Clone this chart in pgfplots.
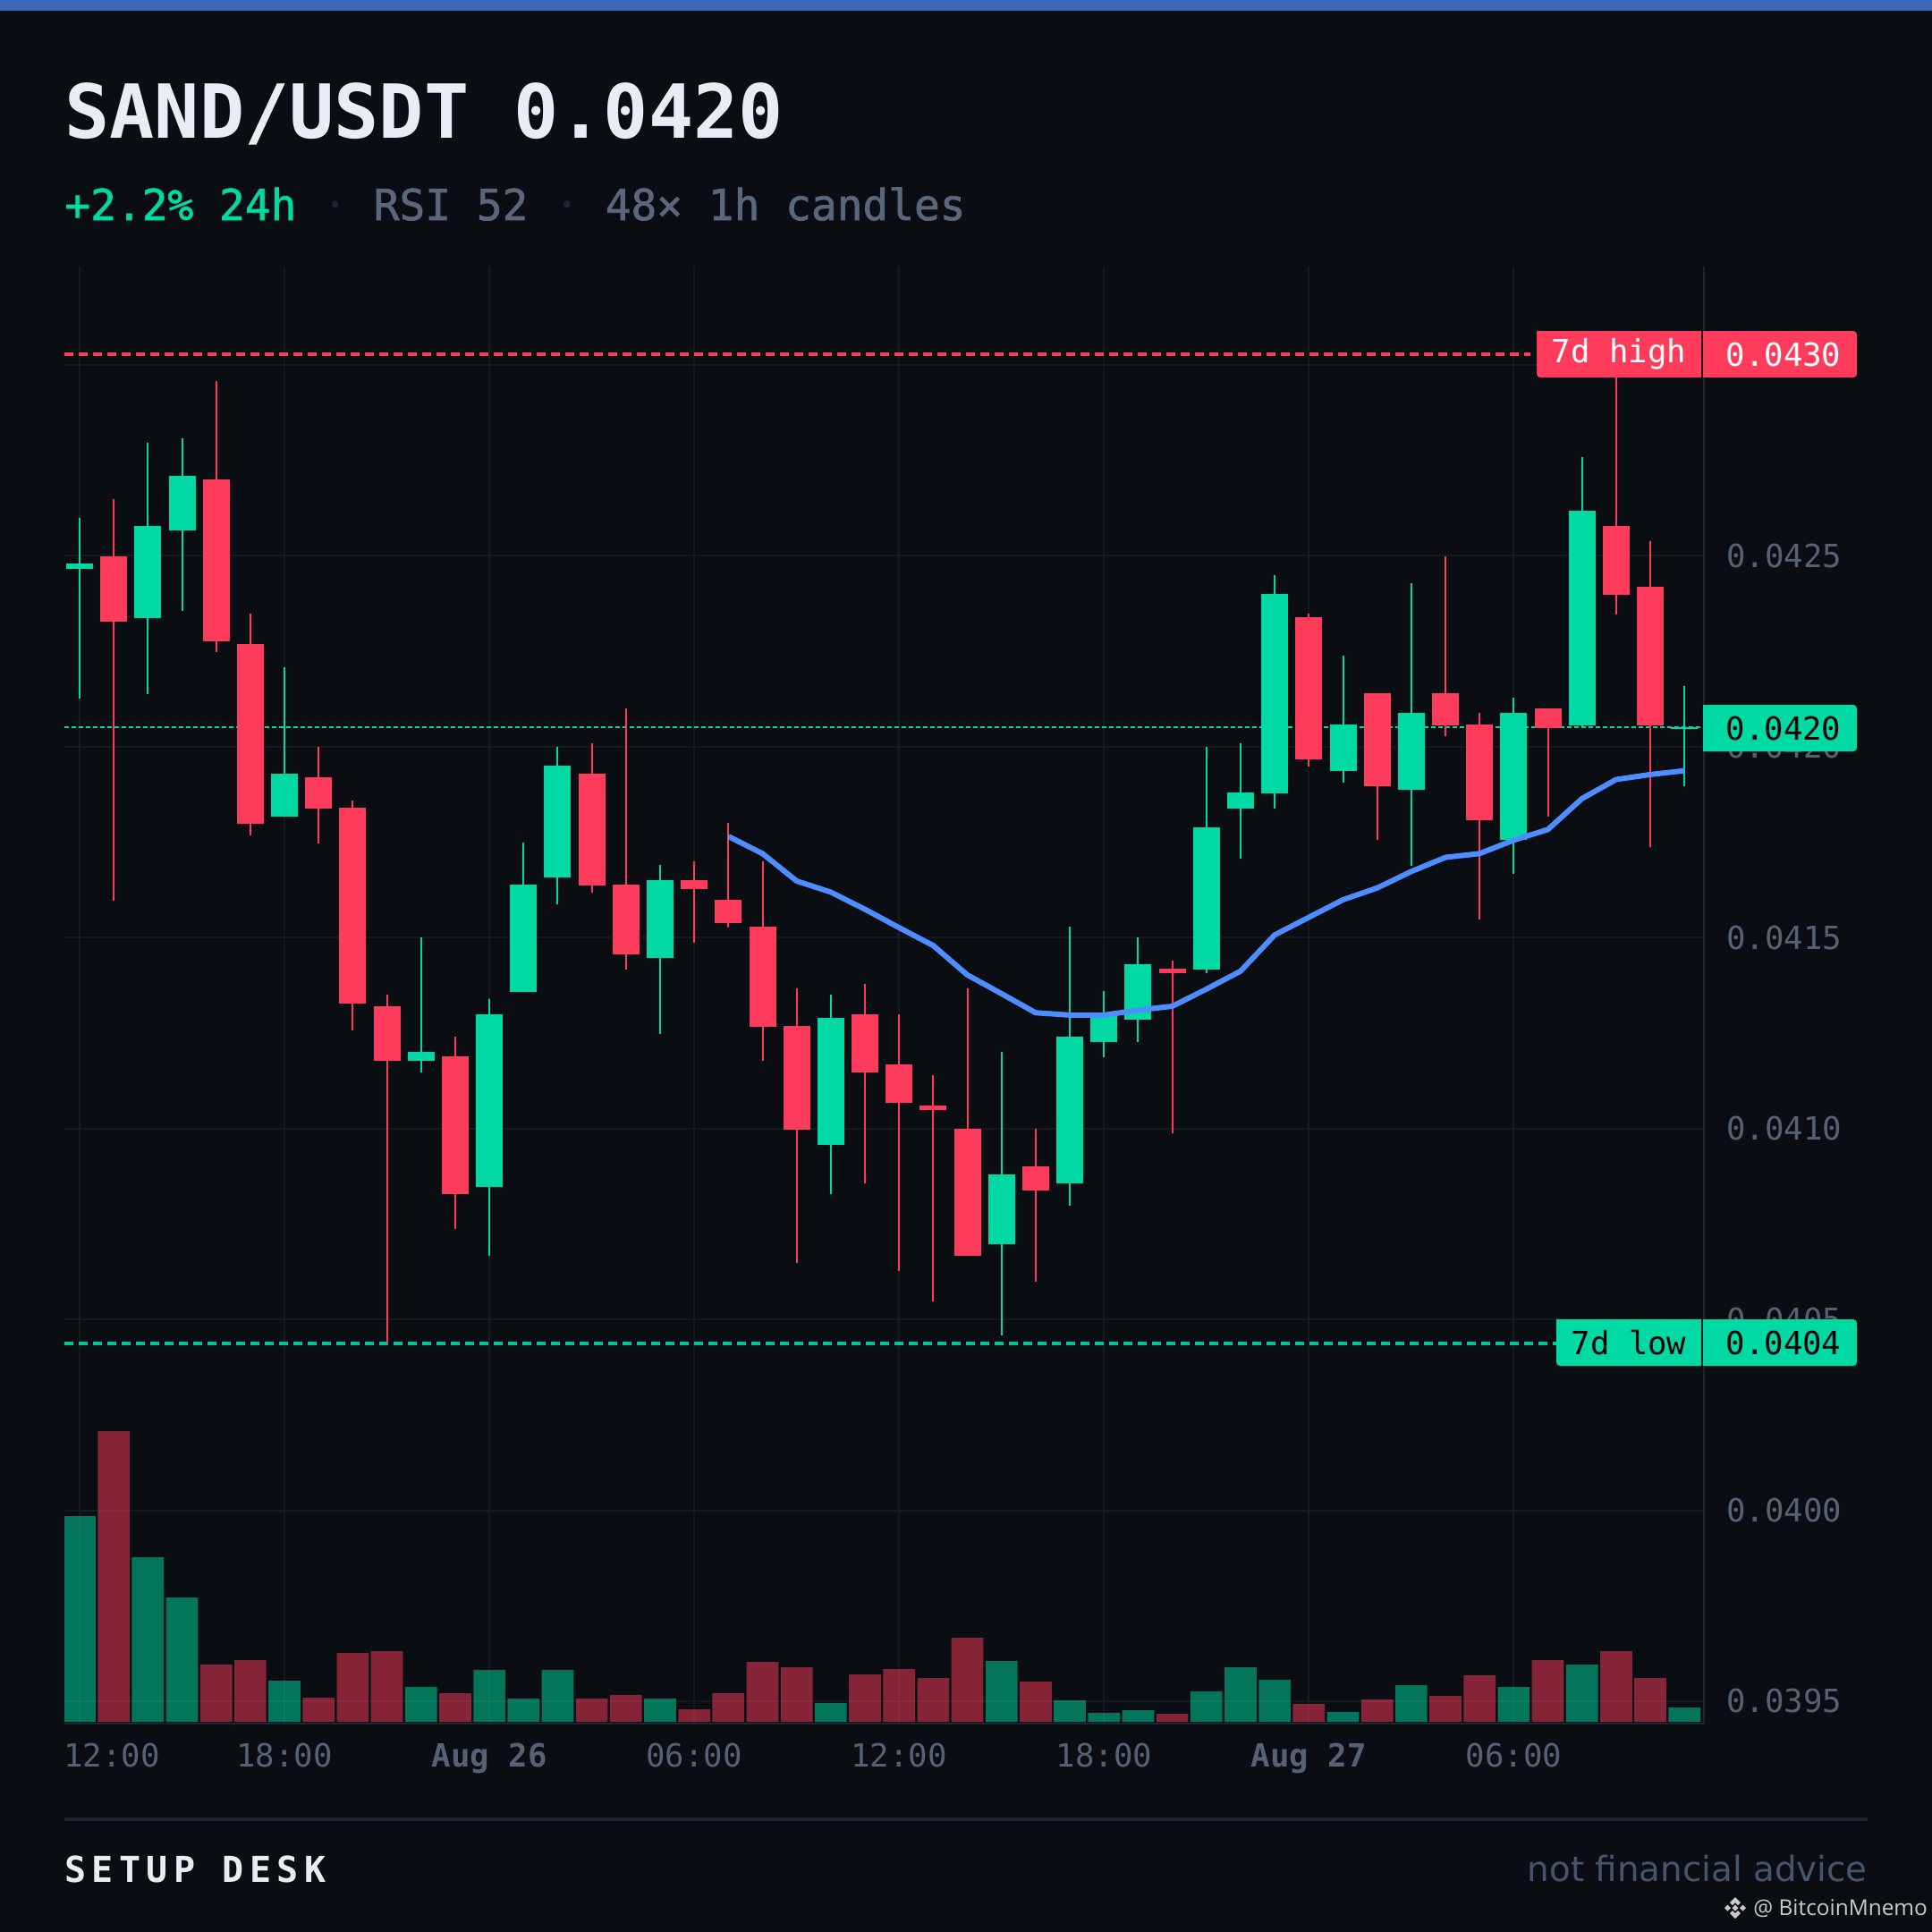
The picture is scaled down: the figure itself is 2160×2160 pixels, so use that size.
\documentclass[border=0pt]{standalone}
\usepackage{fontspec}
\usepackage{pgfplots}
\pgfplotsset{compat=1.18}
\usetikzlibrary{calc}
\newfontfamily\mono{DejaVu Sans Mono}
\newfontfamily\monom[FakeBold=1.5]{DejaVu Sans Mono}
\newfontfamily\monosp[LetterSpace=16]{DejaVu Sans Mono}
\newfontfamily\wide{DejaVu Sans}
\newfontfamily\wm{Open Sans}
\definecolor{bg}{HTML}{0A0D12}
\definecolor{topbar}{HTML}{3B67B8}
\definecolor{titlec}{HTML}{E8ECF3}
\definecolor{up}{HTML}{00D9A3}
\definecolor{down}{HTML}{FF3B5C}
\definecolor{tick}{HTML}{566274}
\definecolor{gridc}{HTML}{161A20}
\definecolor{axisc}{HTML}{1E2530}
\definecolor{sub}{HTML}{5A677B}
\definecolor{ma}{HTML}{4D8DFF}
\definecolor{dotc}{HTML}{1E2530}
\definecolor{foot}{HTML}{46556C}
\newcommand\candle[6]{%
  \addplot[#2,line width=1pt,line cap=butt,forget plot] coordinates {(#1,#3)(#1,#6)};
  \addplot[#2,line width=15pt,line cap=butt,forget plot] coordinates {(#1,#4)(#1,#5)};
}
\newcommand\subdot{\makebox[14.39pt][c]{\textcolor{dotc}{\raisebox{4pt}{\fontsize{13}{13}\selectfont •}}}}
\begin{document}
\begin{tikzpicture}[x=0.5pt,y=-0.5pt]
\path[use as bounding box,fill=bg] (0,0) rectangle (2160,2160);
\fill[topbar] (0,0) rectangle (2160,12);
\node[anchor=base west,inner sep=0pt,text=titlec,font=\mono\bfseries\fontsize{41.7}{50}\selectfont] at (72,154) {SAND/USDT 0.0420};
\node[anchor=base west,inner sep=0pt,font=\monom\fontsize{23.9}{28}\selectfont] at (72,246) {\textcolor{up}{+2.2\% 24h} \subdot{} \textcolor{sub}{RSI 52} \subdot{} \textcolor{sub}{48× 1h candles}};
\begin{axis}[
  at={(36pt,-963.5pt)},anchor=south west,
  width=916.5pt,height=814.5pt,scale only axis,
  xmin=-0.445,xmax=47.57,ymin=0.0394413,ymax=0.0432574,
  axis x line=bottom,axis y line=right,
  axis line style={-,axisc,line width=1.25pt},
  major tick length=0pt,
  clip=true,
  scaled y ticks=false,
  xtick={0,6,12,18,24,30,36,42},
  xticklabels={\makebox[0pt][l]{\hspace{-8.75pt}12:00},18:00,\textbf{Aug 26},06:00,12:00,18:00,\textbf{Aug 27},06:00},
  ytick={0.0395,0.04,0.0405,0.041,0.0415,0.042,0.0425,0.043},
  /pgf/number format/fixed,
  /pgf/number format/fixed zerofill,
  /pgf/number format/precision=4,
  /pgf/number format/assume math mode=true,
  tick label style={font=\mono\fontsize{17.85}{20}\selectfont,text=tick},
  xticklabel style={anchor=base,yshift=-24pt},
  yticklabel style={anchor=west,xshift=9pt},
  grid=major,
  major grid style={gridc,line width=1pt},
]
% current price
\addplot[up,line width=1pt,dash pattern=on 2.5pt off 1.5pt,forget plot] coordinates {(-0.445,0.042050)(47.57,0.042050)};
% 7d high / low
\addplot[down,line width=2pt,dash pattern=on 5pt off 3pt,forget plot] coordinates {(-0.445,0.043028)(42.5,0.043028)};
\addplot[up!90!bg,line width=2pt,dash pattern=on 5pt off 3pt,forget plot] coordinates {(-0.445,0.040438)(43.3,0.040438)};
\candle{0}{up}{0.042598}{0.042480}{0.042466}{0.042126}
\candle{1}{down}{0.042649}{0.042498}{0.042327}{0.041596}
\candle{2}{up}{0.042797}{0.042578}{0.042337}{0.042138}
\candle{3}{up}{0.042808}{0.042709}{0.042567}{0.042356}
\candle{4}{down}{0.042958}{0.042700}{0.042275}{0.042247}
\candle{5}{down}{0.042349}{0.042269}{0.041798}{0.041767}
\candle{6}{up}{0.042208}{0.041929}{0.041817}{0.041817}
\candle{7}{down}{0.041999}{0.041919}{0.041837}{0.041747}
\candle{8}{down}{0.041859}{0.041840}{0.041327}{0.041256}
\candle{9}{down}{0.041350}{0.041320}{0.041178}{0.040436}
\candle{10}{up}{0.041501}{0.041201}{0.041178}{0.041146}
\candle{11}{down}{0.041240}{0.041189}{0.040828}{0.040736}
\candle{12}{up}{0.041338}{0.041298}{0.040846}{0.040666}
\candle{13}{up}{0.041748}{0.041638}{0.041357}{0.041357}
\candle{14}{up}{0.041999}{0.041951}{0.041658}{0.041588}
\candle{15}{down}{0.042009}{0.041929}{0.041636}{0.041618}
\candle{16}{down}{0.042100}{0.041638}{0.041455}{0.041415}
\candle{17}{up}{0.041690}{0.041650}{0.041447}{0.041248}
\candle{18}{down}{0.041700}{0.041650}{0.041626}{0.041486}
\candle{19}{down}{0.041800}{0.041599}{0.041537}{0.041526}
\candle{20}{down}{0.041700}{0.041529}{0.041266}{0.041178}
\candle{21}{down}{0.041368}{0.041268}{0.040997}{0.040647}
\candle{22}{up}{0.041350}{0.041290}{0.040957}{0.040828}
\candle{23}{down}{0.041378}{0.041298}{0.041146}{0.040856}
\candle{24}{down}{0.041298}{0.041169}{0.041067}{0.040627}
\candle{25}{down}{0.041139}{0.041061}{0.041049}{0.040547}
\candle{26}{down}{0.041368}{0.040999}{0.040666}{0.040666}
\candle{27}{up}{0.041201}{0.040880}{0.040697}{0.040458}
\candle{28}{down}{0.040999}{0.040900}{0.040838}{0.040599}
\candle{29}{up}{0.041529}{0.041240}{0.040856}{0.040798}
\candle{30}{up}{0.041360}{0.041295}{0.041226}{0.041186}
\candle{31}{up}{0.041501}{0.041430}{0.041286}{0.041226}
\candle{32}{down}{0.041439}{0.041419}{0.041407}{0.040987}
\candle{33}{up}{0.041999}{0.041789}{0.041415}{0.041407}
\candle{34}{up}{0.042009}{0.041881}{0.041837}{0.041706}
\candle{35}{up}{0.042449}{0.042399}{0.041877}{0.041837}
\candle{36}{down}{0.042349}{0.042339}{0.041966}{0.041947}
\candle{37}{up}{0.042239}{0.042058}{0.041936}{0.041906}
\candle{38}{down}{0.042140}{0.042140}{0.041896}{0.041755}
\candle{39}{up}{0.042428}{0.042088}{0.041887}{0.041688}
\candle{40}{down}{0.042498}{0.042140}{0.042056}{0.042028}
\candle{41}{down}{0.042088}{0.042058}{0.041807}{0.041548}
\candle{42}{up}{0.042128}{0.042088}{0.041755}{0.041666}
\candle{43}{down}{0.042100}{0.042100}{0.042048}{0.041817}
\candle{44}{up}{0.042759}{0.042619}{0.042056}{0.042048}
\candle{45}{down}{0.043028}{0.042578}{0.042398}{0.042346}
\candle{46}{down}{0.042538}{0.042419}{0.042056}{0.041737}
\candle{47}{up}{0.042158}{0.042051}{0.042046}{0.041896}
% moving average
\addplot[ma,line width=3pt,line join=round,forget plot] coordinates {
(19,0.041765)(20,0.041720)(21,0.041648)(22,0.041619)(23,0.041574)(24,0.041526)
(25,0.041479)(26,0.041402)(27,0.041353)(28,0.041303)(29,0.041297)(30,0.041297)
(31,0.041310)(32,0.041320)(33,0.041365)(34,0.041412)(35,0.041507)(36,0.041553)
(37,0.041599)(38,0.041630)(39,0.041673)(40,0.041710)(41,0.041720)(42,0.041755)
(43,0.041783)(44,0.041864)(45,0.041914)(46,0.041927)(47,0.041937)};
\end{axis}
\begin{axis}[
  at={(36pt,-963.5pt)},anchor=south west,
  width=916.5pt,height=814.5pt,scale only axis,
  xmin=-0.445,xmax=47.57,ymin=-2,ymax=1627,
  hide axis,clip=true,
]
\addplot[ybar,bar width=17.85pt,bar shift=0pt,fill=up,fill opacity=0.505,draw=none,forget plot] coordinates {
(0,230)(2,184)(3,139)(6,46)(10,39)(12,58)(13,26)(14,58)(17,26)(22,21)(27,68)(29,24)(30,10)(31,13)(33,34)(34,61)(35,47)(37,11)(39,41)(42,39)(44,64)(47,16)};
\addplot[ybar,bar width=17.85pt,bar shift=0pt,fill=down,fill opacity=0.505,draw=none,forget plot] coordinates {
(1,325)(4,64)(5,69)(7,27)(8,77)(9,79)(11,32)(15,26)(16,30)(18,14)(19,32)(20,67)(21,61)(23,53)(24,59)(25,49)(26,94)(28,45)(32,9)(36,20)(38,25)(40,29)(41,52)(43,69)(45,79)(46,49)};
\end{axis}
% price labels
\newcommand\labL[5]{\fill[#1] (#4,#3) -- (#2,#3) [rounded corners=2pt] -- (#2,#3) -- (#2,#5) [sharp corners] -- (#4,#5) -- cycle;}
\newcommand\labR[5]{\fill[#1,rounded corners=2pt] (#2,#3) [sharp corners] -- (#2,#5) [rounded corners=2pt] -- (#4,#5) -- (#4,#3) [sharp corners] -- cycle;}
\labL{down}{1718}{370}{1902}{422}
\labR{down}{1904}{370}{2076}{422}
\labR{up}{1904}{788}{2076}{840}
\labL{up}{1740}{1475}{1902}{1527}
\labR{up}{1904}{1475}{2076}{1527}
\begin{scope}[every node/.style={inner sep=0pt,font=\mono\fontsize{17.85}{20}\selectfont}]
\node[text=white] at (1810,396) {7d high};
\node[text=white] at (1994,396) {0.0430};
\node[text=black] at (1994,814) {0.0420};
\node[text=black] at (1821,1501) {7d low};
\node[text=black] at (1994,1501) {0.0404};
\end{scope}
% footer
\draw[axisc,line width=2pt] (72,2034)--(2088,2034);
\node[anchor=base west,inner sep=0pt,text=titlec,font=\monosp\bfseries\fontsize{20}{24}\selectfont] at (72,2104) {SETUP DESK};
\node[anchor=base east,inner sep=0pt,text=foot,font=\wide\fontsize{19.4}{24}\selectfont] at (2088,2103) {not financial advice};
\node[anchor=base west,inner sep=0pt,text=white!78!bg,font=\wm\fontsize{12.2}{16}\selectfont] at (1960,2141) {@ BitcoinMnemo};
\begin{scope}[shift={(1940,2133)},white!78!bg]
\fill (0,-12)--(6,-6)--(3,-3)--(0,-6)--(-3,-3)--(-6,-6)--cycle;
\fill (0,12)--(6,6)--(3,3)--(0,6)--(-3,3)--(-6,6)--cycle;
\fill (0,-3.5)--(3.5,0)--(0,3.5)--(-3.5,0)--cycle;
\fill (-12,0)--(-8.5,-3.5)--(-5,0)--(-8.5,3.5)--cycle;
\fill (12,0)--(8.5,-3.5)--(5,0)--(8.5,3.5)--cycle;
\end{scope}
\end{tikzpicture}
\end{document}
